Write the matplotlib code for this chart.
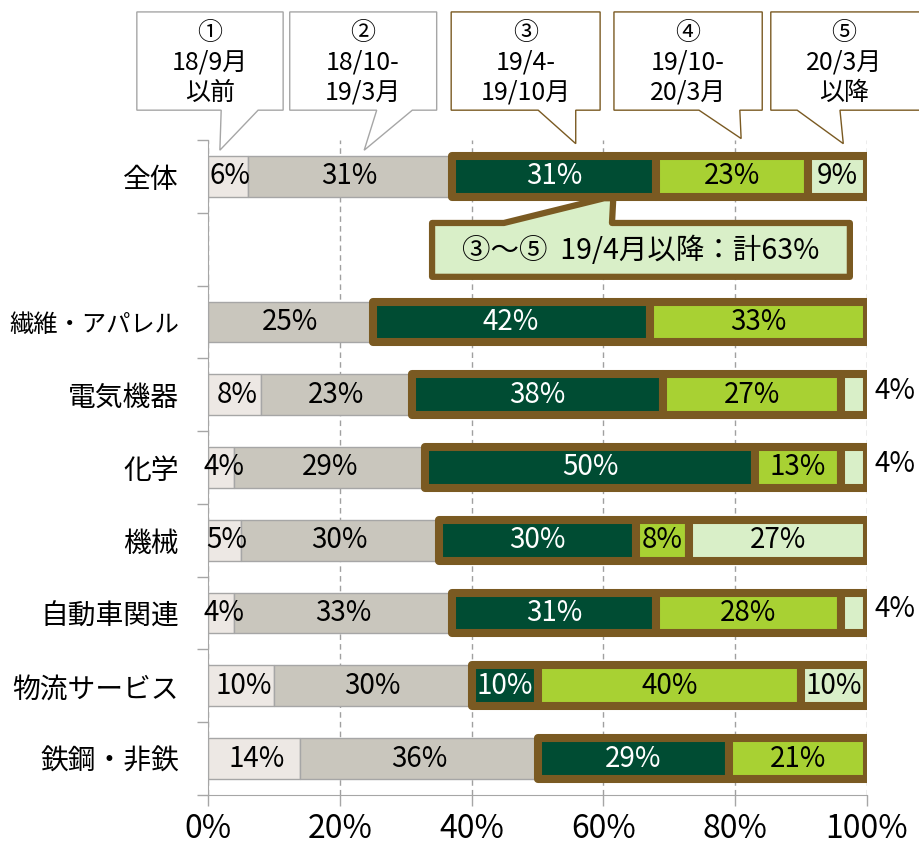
import numpy as np
import matplotlib
matplotlib.use('Agg')
import matplotlib.pyplot as plt
from matplotlib import font_manager
from matplotlib.patches import Polygon

# data (percent of companies by period)
categories = ['全体', '繊維・アパレル', '電気機器', '化学', '機械', '自動車関連', '物流サービス', '鉄鋼・非鉄']
s1 = [6, 0, 8, 4, 5, 4, 10, 14]      # ① 18/9月以前
s2 = [31, 25, 23, 29, 30, 33, 30, 36]  # ② 18/10-19/3月
s3 = [31, 42, 38, 50, 30, 31, 10, 29]  # ③ 19/4-19/10月
s4 = [23, 33, 27, 13, 8, 28, 40, 21]   # ④ 19/10-20/3月
s5 = [9, 0, 4, 4, 27, 4, 10, 0]        # ⑤ 20/3月以降
period_labels = ['①\n18/9月\n以前', '②\n18/10-\n19/3月', '③\n19/4-\n19/10月',
                 '④\n19/10-\n20/3月', '⑤\n20/3月\n以降']
summary_text = '③～⑤  19/4月以降：計63%'
xticks = [0, 20, 40, 60, 80, 100]

JP = 'Noto Sans CJK JP'
names = {f.name for f in font_manager.fontManager.ttflist}
NUM = 'Liberation Sans Narrow' if 'Liberation Sans Narrow' in names else JP
plt.rcParams['font.family'] = [JP, 'DejaVu Sans']

c1, c2, c3, c4, c5 = '#EDE8E4', '#C9C6BD', '#004C33', '#A8D133', '#D9EFC8'
brown = '#7A5A22'
gray = '#A6A6A6'

fig = plt.figure(figsize=(9.2, 8.46), dpi=100)
ax = fig.add_axes([0.2261, 0.0603, 0.7163, 0.7742])

# row 1 is left empty for the summary callout
pos = np.array([0, 2, 3, 4, 5, 6, 7, 8])
h = 0.56

s1a, s2a, s3a, s4a, s5a = map(np.array, (s1, s2, s3, s4, s5))
ax.barh(pos, s1a, height=h, color=c1, edgecolor=gray, lw=1, zorder=2)
ax.barh(pos, s2a, left=s1a, height=h, color=c2, edgecolor=gray, lw=1, zorder=2)

left3 = s1a + s2a
left4 = left3 + s3a
left5 = left4 + s4a
for vals, lefts, col in ((s3a, left3, c3), (s4a, left4, c4), (s5a, left5, c5)):
    m = vals > 0
    bars = ax.barh(pos[m], vals[m], left=lefts[m], height=h, color=col,
                   edgecolor=brown, lw=5.8, zorder=3)
    for b in bars:
        b.set_joinstyle('round')

# segment labels
def seg_label(x, y, v, color='black'):
    ax.text(x, y, f'{v}%', ha='center', va='center', fontsize=20,
            family=NUM, color=color, zorder=5)

for i, p in enumerate(pos):
    if s1[i] > 0:
        seg_label(s1[i] / 2 + 0.4, p, s1[i])
    seg_label(s1[i] + s2[i] / 2, p, s2[i])
    seg_label(left3[i] + s3[i] / 2, p, s3[i], 'white')
    seg_label(left4[i] + s4[i] / 2, p, s4[i])
    if s5[i] >= 5:
        seg_label(left5[i] + s5[i] / 2, p, s5[i])
    elif s5[i] > 0:
        seg_label(104.3, p - 0.05, s5[i])

# axes styling
ax.set_xlim(0, 100)
ax.set_ylim(8.5, -0.5)
ax.set_xticks(xticks)
ax.set_xticklabels([f'{t}%' for t in xticks], fontsize=23, family=NUM)
ax.set_yticks(pos)
ax.set_yticklabels(categories, fontsize=20)
for lab in ax.get_yticklabels():
    if len(lab.get_text()) > 6:
        lab.set_fontsize(17.5)
ax.set_yticks(np.arange(-0.5, 9, 1), minor=True)
ax.tick_params(axis='y', which='major', length=0, pad=21)
ax.tick_params(axis='y', which='minor', length=8, color=gray, width=1)
ax.tick_params(axis='x', length=8, color=gray, width=1, pad=5)
for s in ('top', 'right'):
    ax.spines[s].set_visible(False)
for s in ('left', 'bottom'):
    ax.spines[s].set_color(gray)
ax.set_axisbelow(True)
ax.xaxis.grid(True, ls=(0, (4, 3)), color='#A0A0A0', lw=1)

# period callouts on top
box_x = [(-10.8, 11.4), (12.4, 34.7), (36.9, 59.5), (61.6, 84.1), (85.4, 108.5)]
tail_base = [(2.0, 7.6), (25.6, 31.0), (50.1, 55.8), (74.5, 80.7), (89.4, 95.9)]
tail_tip = [(1.8, -0.36), (23.7, -0.36), (55.8, -0.45), (80.9, -0.52), (96.4, -0.45)]
text_x = [0.3, 23.5, 48.2, 72.8, 96.5]
y_top, y_bot = -2.26, -0.91
for k in range(5):
    x0, x1 = box_x[k]
    b0, b1 = tail_base[k]
    ec = gray if k < 2 else brown
    poly = Polygon([(x0, y_top), (x1, y_top), (x1, y_bot), (b1, y_bot),
                    tail_tip[k], (b0, y_bot), (x0, y_bot)],
                   closed=True, fc='white', ec=ec, lw=1, clip_on=False, zorder=6)
    ax.add_patch(poly)
    ax.text(text_x[k], (y_top + y_bot) / 2 + 0.02, period_labels[k], ha='center', va='center',
            fontsize=18, linespacing=1.2, clip_on=False, zorder=7)

# summary callout
sx0, sx1, sy0, sy1 = 34.0, 97.4, 0.64, 1.38
summary = Polygon([(sx0, sy0), (44.9, sy0), (60.1, 0.30), (61.5, 0.30), (61.3, sy0),
                   (sx1, sy0), (sx1, sy1), (sx0, sy1)],
                  closed=True, fc=c5, ec=brown, lw=4.5, joinstyle='round', zorder=6)
ax.add_patch(summary)
ax.text((sx0 + sx1) / 2, (sy0 + sy1) / 2 + 0.02, summary_text, ha='center', va='center',
        fontsize=20.5, zorder=7)

fig.savefig('out.png', dpi=100)
